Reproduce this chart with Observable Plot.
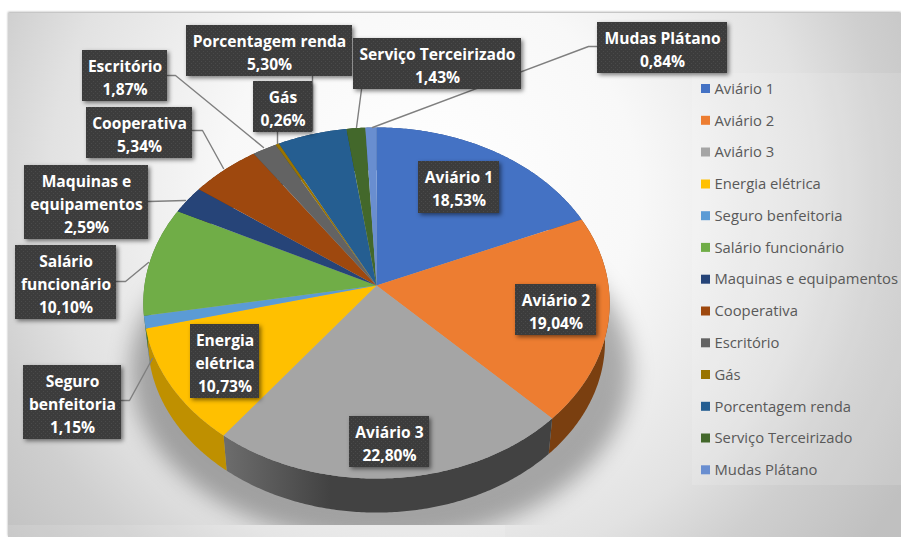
<!DOCTYPE html>
<html>
<head>
<meta charset="utf-8">
<script src="https://cdn.jsdelivr.net/npm/d3@7"></script>
<script src="https://cdn.jsdelivr.net/npm/@observablehq/plot@0.6"></script>
<style>
html,body{margin:0;padding:0;background:#fff;overflow:hidden}
svg{display:block}
</style>
</head>
<body>
<div id="chart"></div>
<script>
const categories = ["Aviário 1","Aviário 2","Aviário 3","Energia elétrica","Seguro benfeitoria","Salário funcionário","Maquinas e equipamentos","Cooperativa","Escritório","Gás","Porcentagem renda","Serviço Terceirizado","Mudas Plátano"];
const percents = [18.53,19.04,22.80,10.73,1.15,10.10,2.59,5.34,1.87,0.26,5.30,1.43,0.84];
const labelNames = ["Aviário 1","Aviário 2","Aviário 3","Energia\nelétrica","Seguro\nbenfeitoria","Salário\nfuncionário","Maquinas e\nequipamentos","Cooperativa","Escritório","Gás","Porcentagem renda","Serviço Terceirizado","Mudas Plátano"];
const topColors = ["#4472c4","#ed7d31","#a5a5a5","#ffc000","#5b9bd5","#70ad47","#264478","#9e480e","#636363","#997300","#255e91","#43682b","#698ed0"];
const wallColors = ["#2f4f88","#7a3f10","url(#wallGrey)","#bf9000","#3f6b94","#4e7831","#1a2f53","#6e3209","#454545","#6a5000","#1a4165","#2f481e","#496390"];

// Layout (hand-placed label boxes: x1,x2,y1,y2)
const boxes = [[418,499,161,213],[515,596,284,335],[349,429,416,467],[190,259,324,398],[23,121,365,439],[15,116,245,319],[24,148,165,239],[86,192,107,158],[82,167,50,101],[253,312,81,132],[186,352,25,76],[353,521,38,89],[597,727,22,73]];
const leaders = [
  [[597,46],[588,46],[372,127]],
  [[361,89],[356,127]],
  [[312,76],[312,130]],
  [[277,132],[277,143]],
  [[167,75],[175,75],[263,147]],
  [[192,130],[202,130],[223,168]],
  [[148,201],[185,200]],
  [[116,281],[125,281],[148,262]],
  [[121,400],[129,400],[152,358]]
];
const legendRows = [88.5,120.3,152,184,215.7,247.4,279.2,311,342.8,374.5,406.3,438,469.8];

// Tilted pie geometry (perspective)
const cx = 376, cy = 285, a = 232, b = 173.8, k = 0.0997;
const total = d3.sum(percents);
const project = (t) => {
  const u = Math.sin(t), v = Math.cos(t), d = 1 + k * v;
  return [cx + a * u / d, cy - b * v / d];
};
const projectBottom = (t) => {
  const [x, y] = project(t);
  return [cx + 0.98 * (x - cx), 0.975 * y + 46];
};
let cum = 0;
const angles = percents.map((p) => {
  const s = cum / total * 2 * Math.PI;
  cum += p;
  return [s, cum / total * 2 * Math.PI];
});
const arcAngles = ([s, e]) => d3.range(0, Math.ceil((e - s) / 0.01) + 1).map((i) => Math.min(e, s + i * 0.01));
const tops = [], walls = categories.map(() => []);
categories.forEach((name, i) => {
  tops.push({name, x: cx, y: cy});
  const ts = arcAngles(angles[i]);
  ts.forEach((t) => { const [x, y] = project(t); tops.push({name, x, y}); });
  ts.forEach((t) => { const [x, y] = project(t); walls[i].push({x, y}); });
  ts.slice().reverse().forEach((t) => { const [x, y] = projectBottom(t); walls[i].push({x, y}); });
});
const shadow = d3.range(0, 2 * Math.PI, 0.02).map((t) => ({x: 380 + 250 * Math.sin(t), y: 370 + 172 * Math.cos(t)}));

const labels = categories.map((name, i) => ({
  name,
  text: labelNames[i] + "\n" + percents[i].toFixed(2).replace(".", ",") + "%",
  x1: boxes[i][0], x2: boxes[i][1], y1: boxes[i][2], y2: boxes[i][3],
  cx: (boxes[i][0] + boxes[i][1]) / 2, cy: (boxes[i][2] + boxes[i][3]) / 2
}));
const leaderPts = leaders.flatMap((pts, i) => pts.map(([x, y]) => ({i, x, y})));
const legend = categories.map((name, i) => ({name, y: legendRows[i]}));

const defs = () => {
  const d = d3.create("svg:defs");
  const g = d.append("radialGradient").attr("id", "bg").attr("gradientUnits", "userSpaceOnUse")
    .attr("cx", 430).attr("cy", 190).attr("r", 560);
  [[0, "#ffffff"], [0.37, "#f8f8f8"], [0.68, "#e2e2e2"], [0.82, "#cfcfcf"], [1, "#c0c0c0"]].forEach(([o, c]) =>
    g.append("stop").attr("offset", o).attr("stop-color", c));
  const w = d.append("linearGradient").attr("id", "wallGrey").attr("gradientUnits", "userSpaceOnUse")
    .attr("x1", 226).attr("x2", 330).attr("y1", 0).attr("y2", 0);
  w.append("stop").attr("offset", 0).attr("stop-color", "#6c6c6c");
  w.append("stop").attr("offset", 1).attr("stop-color", "#424242");
  const p = d.append("pattern").attr("id", "dots").attr("patternUnits", "userSpaceOnUse").attr("width", 4).attr("height", 4);
  p.append("rect").attr("width", 4).attr("height", 4).attr("fill", "#3c3c3c");
  p.append("rect").attr("x", 1).attr("y", 1).attr("width", 1).attr("height", 1).attr("fill", "#4a4a4a");
  p.append("rect").attr("x", 3).attr("y", 3).attr("width", 1).attr("height", 1).attr("fill", "#4a4a4a");
  return d.node();
};

const chart = Plot.plot({
  width: 901, height: 537,
  marginTop: 0, marginRight: 0, marginBottom: 12, marginLeft: 0,
  style: {background: "#fff", fontFamily: "'Open Sans', sans-serif"},
  x: {domain: [0, 901], range: [0, 901], axis: null},
  y: {domain: [0, 537], range: [0, 537], axis: null},
  color: {type: "ordinal", domain: categories, range: topColors},
  marks: [
    defs,
    Plot.rect([{x1: 8, x2: 901, y1: 13, y2: 537}], {x1: "x1", x2: "x2", y1: "y1", y2: "y2", fill: "url(#bg)", imageFilter: "drop-shadow(0 -1px 1px #aaa)"}),
    Plot.rect([{x1: 8, x2: 505, y1: 525, y2: 537}], {x1: "x1", x2: "x2", y1: "y1", y2: "y2", fill: "#fff", fillOpacity: 0.12}),
    Plot.line(shadow, {x: "x", y: "y", fill: "#000", fillOpacity: 0.3, stroke: "none", clip: true, imageFilter: "blur(11px)"}),
    Plot.rect([{x1: 692, x2: 901, y1: 73, y2: 485}], {x1: "x1", x2: "x2", y1: "y1", y2: "y2", fill: "#fff", fillOpacity: 0.13}),
    ...walls.map((w, i) => Plot.line(w, {x: "x", y: "y", fill: wallColors[i], stroke: "none"})),
    Plot.line(tops, {x: "x", y: "y", z: "name", fill: "name", stroke: "none"}),
    Plot.line(leaderPts, {x: "x", y: "y", z: "i", stroke: "#7f7f7f", strokeWidth: 1.4}),
    Plot.rect(labels, {x1: "x1", x2: "x2", y1: "y1", y2: "y2", fill: "url(#dots)", imageFilter: "drop-shadow(2px 2px 2px rgba(0,0,0,0.5))"}),
    Plot.text(labels, {x: "cx", y: "cy", text: "text", fill: "#fff", fontSize: 15.6, fontWeight: 700, lineHeight: 1.47}),
    Plot.rect(legend, {x1: () => 701, x2: () => 710, y1: (d) => d.y - 4.5, y2: (d) => d.y + 4.5, fill: "name"}),
    Plot.text(legend, {x: () => 714, y: "y", text: "name", textAnchor: "start", fill: "#595959", fontSize: 14.8})
  ]
});
document.getElementById("chart").appendChild(chart);
</script>
</body>
</html>
